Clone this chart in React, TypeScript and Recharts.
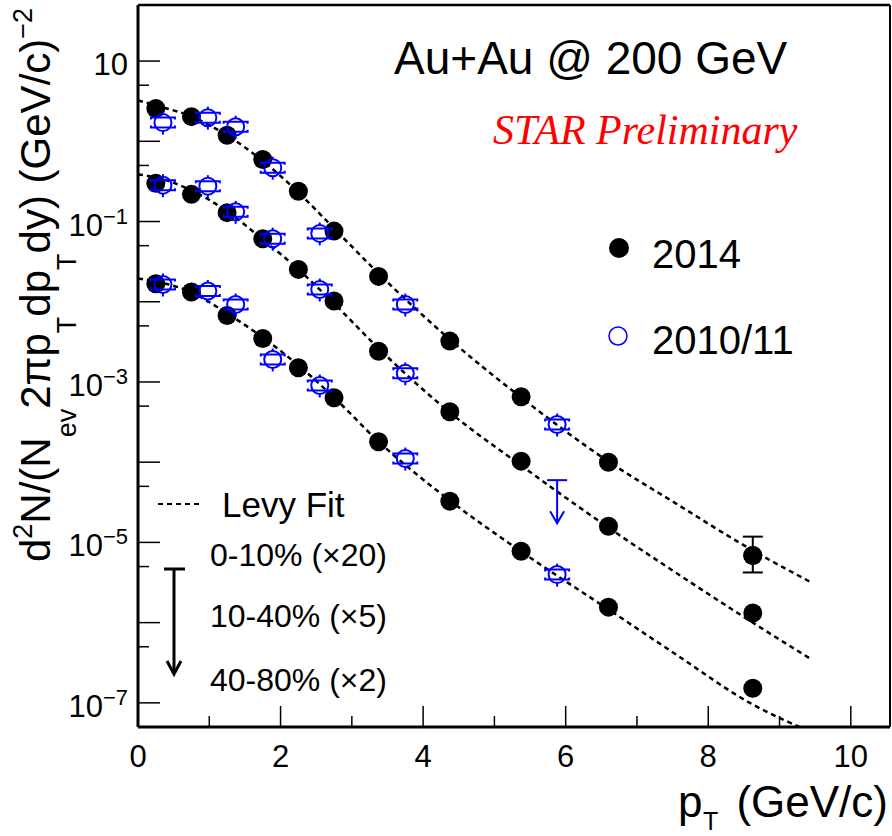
import {
  ComposedChart,
  ErrorBar,
  Line,
  ReferenceLine,
  Scatter,
  XAxis,
  YAxis,
} from "recharts";

const FONT = "'Liberation Sans', Arial, Helvetica, sans-serif";
const BLUE = "#0000ff";

// pT bin centres (GeV/c)
const ptBlack = [0.25, 0.75, 1.25, 1.75, 2.25, 2.75, 3.375, 4.375, 5.375, 6.6, 8.625];
const ptBlue = [0.35, 0.98, 1.37, 1.89, 2.55, 3.75, 5.88];
const ptFit = [0, 0.25, 0.75, 1.25, 1.75, 2.25, 2.75, 3.375, 4.375, 5.375, 6.6, 7.5, 8.625, 9.45];

// 2014 (scaled)
const black010 = [2.57, 2.03, 1.19, 0.594, 0.239, 0.0759, 0.0207, 3.23e-3, 6.53e-4, 1.0e-4, 6.86e-6];
const black010ErrLow = [0, 0, 0, 0, 0, 0, 0, 0, 0, 0, 2.64e-6];
const black010ErrHigh = [0, 0, 0, 0, 0, 0, 0, 0, 0, 0, 4.94e-6];
const black1040 = [0.299, 0.218, 0.129, 0.0611, 0.0253, 0.0102, 2.42e-3, 4.25e-4, 1.03e-4, 1.59e-5, 1.32e-6];
const black4080 = [0.0168, 0.0132, 6.75e-3, 3.48e-3, 1.5e-3, 6.35e-4, 1.8e-4, 3.27e-5, 7.77e-6, 1.56e-6, 1.52e-7];

// 2010/11 (scaled)
const blue010 = [1.71, 1.97, 1.52, 0.469, 0.0711, 9.25e-3, 2.95e-4];
const blue1040 = [0.284, 0.276, 0.132, 0.0611, 0.0142, 1.28e-3];
const blue1040LimitPt = [5.88];
const blue1040Limit = [5.97e-5];
const blue4080 = [0.0164, 0.0136, 9.25e-3, 1.91e-3, 9.04e-4, 1.11e-4, 3.97e-6];

// Levy fits
const fit010 = [3.24, 2.8, 2.04, 1.185, 0.57, 0.2305, 0.082, 0.0225, 3.39e-3, 6.41e-4, 1.02e-4, 3.24e-5, 7.93e-6, 3.16e-6];
const fit1040 = [0.387, 0.355, 0.244, 0.134, 0.0598, 0.0253, 9.52e-3, 2.62e-3, 4.17e-4, 9.1e-5, 1.53e-5, 4.46e-6, 1.0e-6, 3.47e-7];
const fit4080 = [0.0195, 0.0179, 0.0131, 7.15e-3, 3.59e-3, 1.61e-3, 6.41e-4, 1.81e-4, 3.33e-5, 7.7e-6, 1.46e-6, 4.28e-7, 9.53e-8, 4.32e-8];

// axes
const xDomain = [0, 10.55];
const yDomain = [5e-8, 50];
const xTicks = [0, 1, 2, 3, 4, 5, 6, 7, 8, 9, 10];
const xLabelTicks = [0, 2, 4, 6, 8, 10];
const yMajorTicks = [1e-7, 1e-6, 1e-5, 1e-4, 1e-3, 1e-2, 1e-1, 1, 10];
const yMinorTicks = [5e-7, 5e-6, 5e-5, 5e-4, 5e-3, 5e-2, 0.5, 5];
const yLabelTicks = [10, 1e-1, 1e-3, 1e-5, 1e-7];
const yLabelExps = ["", "\u22121", "\u22123", "\u22125", "\u22127"];

const centralityLabels = ["0-10% (\u00d720)", "10-40% (\u00d75)", "40-80% (\u00d72)"];

const toPts = (xs: number[], ys: number[]) => ys.map((y, i) => ({ x: xs[i], y }));

const sameVal = (a: number, b: number) => Math.abs(a / b - 1) < 1e-6;

function XTick(props: any) {
  const { x, y, payload } = props;
  const v = payload.value;
  const major = xLabelTicks.includes(v);
  return (
    <g>
      <line x1={x} x2={x} y1={y} y2={y - (major ? 21 : 11)} stroke="#000" strokeWidth={1.5} />
      {major && (
        <text x={x} y={y + 40} textAnchor="middle" fontSize={31} fontFamily={FONT} fill="#000">
          {v}
        </text>
      )}
    </g>
  );
}

function YTick(props: any) {
  const { x, y, payload } = props;
  const v = payload.value;
  const major = yMajorTicks.some((t) => sameVal(t, v));
  const li = yLabelTicks.findIndex((t) => sameVal(t, v));
  return (
    <g>
      <line x1={x} x2={x + (major ? 22 : 11)} y1={y} y2={y} stroke="#000" strokeWidth={1.5} />
      {li >= 0 && (
        <text x={x - 10} y={y + 14} textAnchor="end" fontSize={31} fontFamily={FONT} fill="#000">
          10
          {yLabelExps[li] && (
            <tspan fontSize={22} dy={-12}>
              {yLabelExps[li]}
            </tspan>
          )}
        </text>
      )}
    </g>
  );
}

function BlackDot(props: any) {
  const { cx, cy } = props;
  return <circle cx={cx} cy={cy} r={9.5} fill="#000" />;
}

function BlueDot(props: any) {
  const { cx, cy } = props;
  return (
    <g stroke={BLUE} strokeWidth={2} fill="none">
      <circle cx={cx} cy={cy} r={8.5} />
      <path d={`M${cx - 12},${cy - 3} V${cy - 5} H${cx + 12} V${cy - 3}`} />
      <path d={`M${cx - 12},${cy + 3} V${cy + 5} H${cx + 12} V${cy + 3}`} />
      <line x1={cx} x2={cx} y1={cy + 8.5} y2={cy + 12} />
      <line x1={cx} x2={cx} y1={cy - 8.5} y2={cy - 11} />
    </g>
  );
}

function UpperLimit(props: any) {
  const { cx, cy } = props;
  return (
    <g stroke={BLUE} strokeWidth={2} fill="none">
      <line x1={cx - 10} x2={cx + 10} y1={cy} y2={cy} />
      <line x1={cx} x2={cx} y1={cy} y2={cy + 43} />
      <path d={`M${cx - 7},${cy + 31} L${cx},${cy + 43} L${cx + 7},${cy + 31}`} />
    </g>
  );
}

export default function App() {
  const black010All = black010.map((y, i) => ({
    x: ptBlack[i],
    y,
    err: [black010ErrLow[i], black010ErrHigh[i]],
  }));
  const black010WithErr = black010All.filter((d) => d.err[0] > 0 || d.err[1] > 0);
  const fitLine = {
    stroke: "#000",
    strokeWidth: 2.5,
    strokeDasharray: "5 4",
    dot: false,
    activeDot: false,
    isAnimationActive: false,
    type: "monotone" as const,
  };

  return (
    <div style={{ position: "absolute", left: 0, top: 0, width: 892, height: 836, background: "#fff" }}>
      <ComposedChart width={892} height={836} margin={{ top: 5, right: 2, bottom: 0, left: 0 }}>
        <XAxis
          type="number"
          dataKey="x"
          domain={xDomain}
          ticks={xTicks}
          interval={0}
          allowDataOverflow
          height={109}
          tickSize={0}
          tickMargin={0}
          tickLine={false}
          tick={(p: any) => <XTick {...p} />}
          axisLine={{ stroke: "#000", strokeWidth: 3 }}
        />
        <YAxis
          type="number"
          dataKey="y"
          scale="log"
          domain={yDomain}
          ticks={[...yMajorTicks, ...yMinorTicks]}
          interval={0}
          allowDataOverflow
          width={138}
          tickSize={0}
          tickMargin={0}
          tickLine={false}
          tick={(p: any) => <YTick {...p} />}
          axisLine={{ stroke: "#000", strokeWidth: 3 }}
        />
        <ReferenceLine y={yDomain[1]} stroke="#000" strokeWidth={2.5} ifOverflow="visible" />
        <ReferenceLine x={xDomain[1]} stroke="#000" strokeWidth={2} ifOverflow="visible" />

        <Line data={toPts(ptFit, fit010)} dataKey="y" {...fitLine} />
        <Line data={toPts(ptFit, fit1040)} dataKey="y" {...fitLine} />
        <Line data={toPts(ptFit, fit4080)} dataKey="y" {...fitLine} />

        <Scatter data={black010WithErr} dataKey="y" shape={(p: any) => <BlackDot {...p} />} isAnimationActive={false}>
          <ErrorBar dataKey="err" direction="y" width={10} stroke="#000" strokeWidth={2} />
        </Scatter>
        <Scatter data={black010All} dataKey="y" shape={(p: any) => <BlackDot {...p} />} isAnimationActive={false} />
        <Scatter data={toPts(ptBlack, black1040)} dataKey="y" shape={(p: any) => <BlackDot {...p} />} isAnimationActive={false} />
        <Scatter data={toPts(ptBlack, black4080)} dataKey="y" shape={(p: any) => <BlackDot {...p} />} isAnimationActive={false} />

        <Scatter data={toPts(ptBlue, blue010)} dataKey="y" shape={(p: any) => <BlueDot {...p} />} isAnimationActive={false} />
        <Scatter data={toPts(ptBlue, blue1040)} dataKey="y" shape={(p: any) => <BlueDot {...p} />} isAnimationActive={false} />
        <Scatter data={toPts(ptBlue, blue4080)} dataKey="y" shape={(p: any) => <BlueDot {...p} />} isAnimationActive={false} />
        <Scatter data={toPts(blue1040LimitPt, blue1040Limit)} dataKey="y" shape={(p: any) => <UpperLimit {...p} />} isAnimationActive={false} />
      </ComposedChart>

      <svg
        width={892}
        height={836}
        style={{ position: "absolute", left: 0, top: 0, pointerEvents: "none" }}
        fontFamily={FONT}
      >
        <text x={394} y={74} fontSize={46} fill="#000">Au+Au @ 200 GeV</text>
        <text x={493} y={144} fontSize={42} fill="#ff0000" fontStyle="italic" fontFamily="'Liberation Serif', 'Times New Roman', serif">
          STAR Preliminary
        </text>

        <circle cx={619} cy={248} r={10} fill="#000" />
        <text x={652} y={268} fontSize={40} fill="#000">2014</text>
        <circle cx={618} cy={336} r={9} fill="none" stroke={BLUE} strokeWidth={1.5} />
        <text x={652} y={354} fontSize={40} fill="#000">2010/11</text>

        <line x1={158} x2={203} y1={504} y2={504} stroke="#000" strokeWidth={2} strokeDasharray="5 4" />
        <text x={222} y={517} fontSize={35} fill="#000">Levy Fit</text>
        {centralityLabels.map((t, i) => (
          <text key={t} x={210} y={[566, 627, 691][i]} fontSize={32} fill="#000">
            {t}
          </text>
        ))}
        <g stroke="#000" strokeWidth={3} fill="none">
          <line x1={164} x2={185} y1={569} y2={569} />
          <line x1={174} x2={174} y1={569} y2={673} />
          <path d="M167,661 L174,674 L181,661" />
        </g>

        <text x={678} y={817} fontSize={44} fill="#000">p</text>
        <text x={703} y={830} fontSize={25} fill="#000">T</text>
        <text x={888} y={817} fontSize={44} fill="#000" textAnchor="end">(GeV/c)</text>

        <text transform="rotate(-90)" x={-285} y={50} textAnchor="middle" fontSize={42} fill="#000">
          d
          <tspan fontSize={27} dy={-18}>2</tspan>
          <tspan dy={18}>N/(N</tspan>
          <tspan fontSize={27} dy={26}>ev</tspan>
          <tspan dy={-26}>2πp</tspan>
          <tspan fontSize={27} dy={26}>T</tspan>
          <tspan dy={-26}>dp</tspan>
          <tspan fontSize={27} dy={26}>T</tspan>
          <tspan dy={-26}>dy) (GeV/c)</tspan>
          <tspan fontSize={27} dy={-18}>{"\u22122"}</tspan>
        </text>
      </svg>
    </div>
  );
}
